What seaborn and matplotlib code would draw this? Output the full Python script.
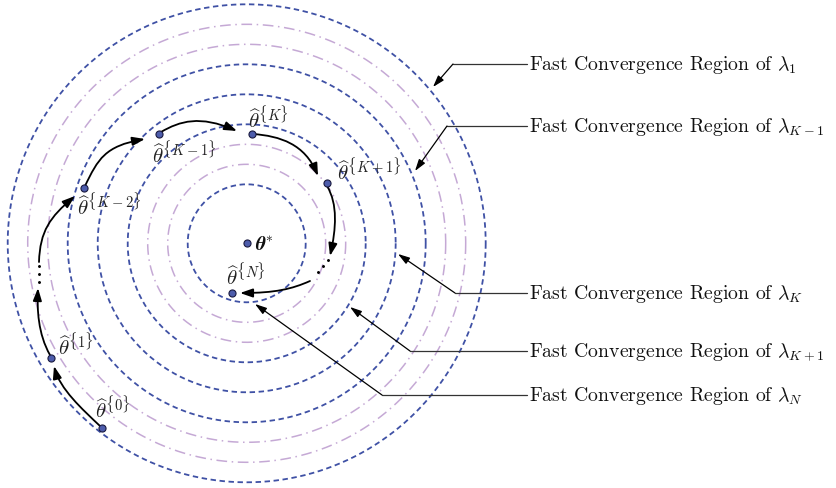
import numpy as np
import matplotlib
matplotlib.use("Agg")
import matplotlib.pyplot as plt
import seaborn as sns
import pandas as pd
from matplotlib.patches import FancyArrowPatch
from matplotlib.path import Path

# ---- data (pixel space, y down) ----
center = (246.7, 244.3)
blue_radii = [59, 119, 149, 179, 239]
purple_radii = [79, 99, 199, 219]

point_names = ["0", "1", "K-2", "K-1", "K", "K+1", "N"]
point_x = [101.7, 51.0, 84.0, 159.3, 251.7, 326.7, 231.7]
point_y = [429.0, 359.0, 189.3, 134.7, 134.7, 184.3, 294.3]
label_x = [95, 58, 77, 152, 248, 337, 226]
label_y = [418, 355, 215, 163, 128, 180, 285]

# ellipsis dots
dots_x = [39.0, 39.0, 39.0, 328.0, 323.0, 318.0]
dots_y = [267.0, 275.0, 283.0, 261.0, 267.0, 273.0]

# curved arrows: start, ctrl1, ctrl2, end
arrow_paths = [
    [(100, 427), (82, 410), (60, 390), (54, 367)],
    [(50, 356), (38, 335), (37, 310), (38, 289)],
    [(39, 263), (40, 232), (50, 218), (75, 197)],
    [(85, 187), (98, 160), (105, 147), (145, 140)],
    [(161, 133), (180, 122), (200, 116), (237, 132)],
    [(253, 135), (280, 137), (305, 145), (318, 177)],
    [(327, 187), (338, 205), (336, 230), (330, 257)],
    [(310, 282), (292, 290), (275, 294), (240, 294)],
]

# annotation leaders: text, y of text line, corner x, arrow tip
region_labels = [r"\lambda_1", r"\lambda_{K-1}", r"\lambda_K", r"\lambda_{K+1}", r"\lambda_N"]
region_y = [65, 127, 294, 352, 396]
corner_x = [453, 447, 455, 410, 382]
tip_x = [433, 415, 398, 350, 255]
tip_y = [88, 172, 255, 308, 305]

blue = "#3f51a5"
purple = "#c5a9d5"

sns.set_theme(style="white")
plt.rcParams["mathtext.fontset"] = "cm"
plt.rcParams["font.family"] = ["cmr10", "DejaVu Serif"]
plt.rcParams["axes.formatter.use_mathtext"] = True

fig = plt.figure(figsize=(8.36, 4.89), dpi=100)
ax = fig.add_axes([0, 0, 1, 1])
ax.set_xlim(0, 836)
ax.set_ylim(489, 0)

t = np.linspace(0, 2 * np.pi, 400)
for r in purple_radii:
    ax.plot(center[0] + r * np.cos(t), center[1] + r * np.sin(t), color=purple,
            lw=1.1, dashes=(7, 3, 1, 3), zorder=1)
for r in blue_radii:
    ax.plot(center[0] + r * np.cos(t), center[1] + r * np.sin(t), color=blue,
            lw=1.3, dashes=(3, 2), zorder=2)

# curved arrows
for pts in arrow_paths:
    codes = [Path.MOVETO, Path.CURVE4, Path.CURVE4, Path.CURVE4]
    p = Path(pts, codes)
    arr = FancyArrowPatch(path=p, arrowstyle="-|>,head_length=0.75,head_width=0.26",
                          mutation_scale=10, color="black", lw=1.3, zorder=4)
    ax.add_patch(arr)

# points
pts_df = pd.DataFrame({"x": point_x, "y": point_y, "name": point_names})
sns.scatterplot(data=pts_df, x="x", y="y", ax=ax, s=26, color="#4d5cab",
                edgecolor="#1a1a40", linewidth=0.8, zorder=5, legend=False)
sns.scatterplot(x=[center[0]], y=[center[1]], ax=ax, s=26, color="#4d5cab",
                edgecolor="#1a1a40", linewidth=0.8, zorder=5, legend=False)
ax.set_xlabel("")
ax.set_ylabel("")
ax.axis("off")

for xx, yy, nm in zip(label_x, label_y, point_names):
    ax.text(xx, yy, r"$\widehat{\theta}^{\{%s\}}$" % nm, fontsize=15,
            ha="left", va="baseline", color="#222222", zorder=6)
ax.text(center[0] + 8, center[1] + 6, r"$\boldsymbol{\theta}^{*}$", fontsize=14,
        ha="left", va="baseline", color="#111111", zorder=6)

ax.scatter(dots_x, dots_y, s=1.2, color="black", zorder=5)

# leader lines
for lab, yy, cx, tx, ty in zip(region_labels, region_y, corner_x, tip_x, tip_y):
    ax.plot([527, cx], [yy, yy], color="#333333", lw=0.9, zorder=3)
    ax.add_patch(FancyArrowPatch((cx, yy), (tx, ty),
                 arrowstyle="-|>,head_length=0.7,head_width=0.22", mutation_scale=10,
                 color="black", lw=0.9, shrinkA=0, shrinkB=0, zorder=3))
    ax.text(529, yy + 5, "Fast Convergence Region of $%s$" % lab,
            fontsize=14.2, ha="left", va="baseline", color="#111111")

fig.savefig("out.png", dpi=100)
